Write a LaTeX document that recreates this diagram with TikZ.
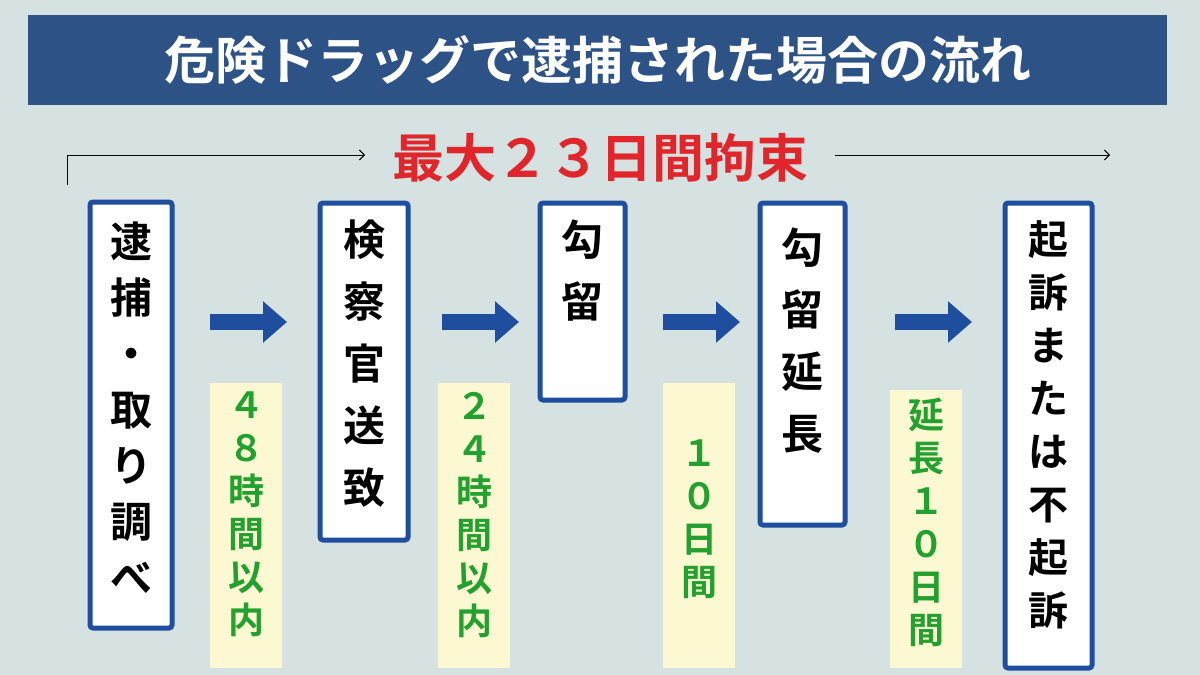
\documentclass[tikz,border=0pt]{standalone}
\usepackage{fontspec}
\setmainfont{Noto Sans CJK JP}[BoldFont={* Bold}]
\usetikzlibrary{arrows.meta}
\definecolor{bg}{HTML}{D6E1E1}
\definecolor{navy}{HTML}{2D5286}
\definecolor{bblue}{HTML}{1F4E9E}
\definecolor{ared}{HTML}{E0262B}
\definecolor{gr}{HTML}{23A12F}
\definecolor{yel}{HTML}{FCF8D2}
\begin{document}
\begin{tikzpicture}[x=1pt,y=-1pt,
  box/.style={draw=bblue,line width=5pt,fill=white,rounded corners=3pt},
  ybox/.style={fill=yel},
  vt/.style={align=center,anchor=north,inner sep=0},
  gt/.style={font=\bfseries\fontsize{36}{43}\selectfont,text=gr,align=center,anchor=north,inner sep=0},
  barrow/.style={-{Triangle[length=24pt,width=40pt]},line width=16pt,bblue}]
\useasboundingbox (0,0) rectangle (1200,675);
\fill[bg] (0,0) rectangle (1200,675);
\node[fill=navy,minimum width=1139pt,minimum height=90pt,anchor=north west,inner sep=0] (title) at (28,15) {};
\node[text=white,font=\bfseries\fontsize{51}{54}\selectfont] (tt) at (title.center) {危険ドラッグで逮捕された場合の流れ};
\node[text=ared,font=\bfseries\fontsize{52}{56}\selectfont] (red) at (600,158) {最大２３日間拘束};
\coordinate (l0) at (67,185);\coordinate (l1) at (67,155);\coordinate (l2) at (365,155);
\coordinate (r1) at (835,155);\coordinate (r2) at (1110,155);
\draw[-{Straight Barb[length=5pt]},line width=1pt] (l0)--(l1)--(l2);
\draw[-{Straight Barb[length=5pt]},line width=1pt] (r1)--(r2);
% yellow
\fill[ybox] (210,383) rectangle (282,668);
\fill[ybox] (438,383) rectangle (510,668);
\fill[ybox] (663,383) rectangle (735,668);
\fill[ybox] (890,390) rectangle (962,668);
\node[gt] (g1) at (246,392) {４\\８\\時\\間\\以\\内};
\node[gt] (g2) at (474,392) {２\\４\\時\\間\\以\\内};
\node[gt] (g3) at (699,440) {１\\０\\日\\間};
\node[gt] (g4) at (926,398) {延\\長\\１\\０\\日\\間};
% boxes
\draw[box] (90,202) rectangle (172,628);
\draw[box] (320,203) rectangle (408,540);
\draw[box] (540,203) rectangle (625,400);
\draw[box] (760,203) rectangle (845,525);
\draw[box] (1005,203) rectangle (1092,668);
\node[vt,font=\bfseries\fontsize{42}{56}\selectfont] (b1) at (131,222) {逮\\捕\\・\\取\\り\\調\\べ};
\node[vt,font=\bfseries\fontsize{42}{62}\selectfont] (b2) at (364,220) {検\\察\\官\\送\\致};
\node[vt,font=\bfseries\fontsize{42}{62}\selectfont] (b3) at (582,220) {勾\\留};
\node[vt,font=\bfseries\fontsize{42}{62}\selectfont] (b4) at (802,228) {勾\\留\\延\\長};
\node[vt,font=\bfseries\fontsize{40}{53}\selectfont] (b5) at (1048,220) {起\\訴\\ま\\た\\は\\不\\起\\訴};
% arrows
\coordinate (a1s) at (210,322);\coordinate (a1e) at (287,322);
\coordinate (a2s) at (442,322);\coordinate (a2e) at (519,322);
\coordinate (a3s) at (663,322);\coordinate (a3e) at (740,322);
\coordinate (a4s) at (895,322);\coordinate (a4e) at (972,322);
\draw[barrow] (a1s)--(a1e);
\draw[barrow] (a2s)--(a2e);
\draw[barrow] (a3s)--(a3e);
\draw[barrow] (a4s)--(a4e);
\end{tikzpicture}
\end{document}
